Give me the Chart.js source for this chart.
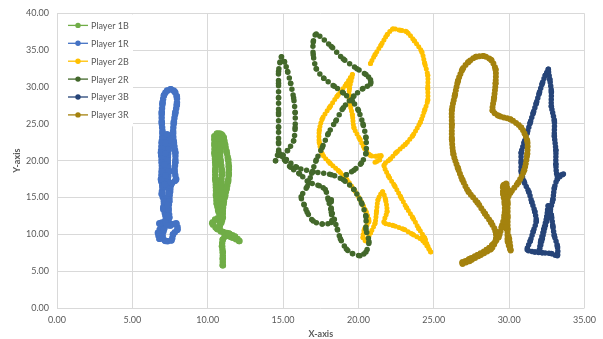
<!DOCTYPE html>
<html>
<head>
<meta charset="utf-8">
<script src="https://cdn.jsdelivr.net/npm/chart.js@4/dist/chart.umd.min.js"></script>
<style>
  html, body { margin: 0; padding: 0; background: #ffffff; }
  canvas { display: block; }
</style>
</head>
<body>
<canvas id="chart" width="603" height="339"></canvas>
<script>
// Series names and colours
const seriesNames = ['Player 1B', 'Player 1R', 'Player 2B', 'Player 2R', 'Player 3B', 'Player 3R'];
const seriesColors = ['#70AD47', '#4472C4', '#FFC000', '#43682B', '#264478', '#A4820E'];

// Axis ticks
const xTicks = [0, 5, 10, 15, 20, 25, 30, 35];
const yTicks = [0, 5, 10, 15, 20, 25, 30, 35, 40];

// Tracked positions [x, y] for each player
const p1B = [
  [11.0,5.8],[11.0,6.7],[11.0,7.6],[10.95,8.4],[11.0,9.3],[11.2,9.8],[11.6,9.6],[12.1,9.1],[11.8,9.7],
  [11.4,10.1],[10.9,10.4],[10.6,10.8],[10.3,11.5],[10.5,12.0],[10.8,12.4],[10.7,13.2],[10.6,14.2],
  [10.55,15.3],[10.55,16.4],[10.5,17.5],[10.5,18.6],[10.5,19.8],[10.45,21.0],[10.45,22.2],[10.45,23.3],
  [10.65,23.7],[10.9,23.6],[11.05,23.2],[11.15,22.2],[11.25,21.2],[11.35,20.2],[11.4,19.2],[11.4,18.2],
  [11.35,17.2],[11.25,16.2],[11.15,15.2],[11.05,14.2],[11.0,13.2],[11.0,12.3],[10.9,11.6],[10.75,10.9],
  [10.9,12.5],[10.9,14.0],[10.95,15.5],[10.9,17.0],[10.95,18.5],[10.85,20.0],[10.8,21.5],[10.75,23.0]
];
const p1R = [
  [6.8,9.4],[6.7,10.2],[6.9,11.0],[6.8,11.5],[7.1,11.6],[7.5,11.2],[7.9,11.5],[8.0,10.7],[7.7,10.0],
  [7.6,9.2],[7.2,9.1],[7.0,9.6],[7.1,10.7],[7.2,11.6],[7.2,12.6],[7.05,13.5],[7.1,14.5],[6.95,15.5],
  [7.0,16.5],[6.9,17.4],[6.95,18.5],[6.95,19.8],[6.9,21.1],[6.95,22.5],[7.0,23.8],[6.95,25.2],[6.95,26.5],
  [7.0,27.8],[7.1,28.9],[7.3,29.5],[7.55,29.7],[7.8,29.4],[7.95,28.7],[7.95,27.6],[7.85,26.5],[7.75,25.2],
  [7.7,23.8],[7.75,22.5],[7.85,21.1],[7.85,19.8],[7.8,18.5],[7.9,17.4],[7.6,16.9],[7.5,15.8],[7.45,14.5],
  [7.4,13.4],[7.45,12.3],[7.3,11.2],[7.35,12.5],[7.35,14.0],[7.4,15.5],[7.35,17.0],[7.4,18.5],[7.35,20.0],
  [7.4,21.5],[7.45,22.8],[7.3,23.6],[7.2,22.4],[7.2,21.0],[7.15,19.5],[7.2,18.0],[7.15,16.8]
];
const p2B = [
  [20.8,33.2],[21.1,34.4],[21.5,35.7],[21.9,37.1],[22.3,37.9],[22.8,37.7],[23.2,37.5],[23.7,36.3],
  [24.2,34.8],[24.4,33.2],[24.6,31.6],[24.6,29.8],[24.6,28.2],[24.4,26.9],[24.1,25.2],[23.6,23.4],
  [23.1,22.2],[22.5,21.1],[22.1,20.2],[21.7,19.4],
  [22.0,17.9],[22.4,16.6],[22.8,15.1],[23.2,13.6],[23.6,12.3],[24.0,10.8],[24.4,9.5],[24.6,8.4],[24.8,7.6],
  [24.3,9.1],[23.6,10.0],[23.0,10.7],[22.3,11.2],[21.7,11.6],
  [21.9,13.1],[21.8,14.7],[21.6,15.8],[21.3,14.7],[21.2,13.1],[21.1,11.5],[20.8,10.2],[20.5,9.1],
  [20.3,9.6],[20.4,10.7],[20.7,11.8],[20.5,13.1],[20.2,14.4],[19.7,16.1],[19.2,17.5],[18.7,18.6],
  [18.1,19.7],[17.6,20.9],[17.4,22.5],[17.4,24.1],[17.6,25.7],[18.1,27.3],[18.6,28.8],[19.2,30.4],
  [19.6,31.7],[19.4,29.8],[19.4,28.1],[19.6,26.2],[19.7,24.5],[20.1,22.9],[20.4,21.7],[20.8,20.7],
  [21.2,20.6],[21.5,20.7],[21.4,20.1],[21.1,19.8]
];
const p2R = [
  [19.2,18.1],[19.7,18.7],[20.2,19.7],[20.5,21.0],[20.5,23.1],[20.3,25.0],[20.0,26.8],[19.6,28.1],
  [19.0,29.2],[18.4,30.1],[17.7,31.2],[17.2,32.5],[17.0,34.4],[17.0,36.1],[17.2,37.2],
  [18.2,35.5],[19.0,33.8],[19.9,32.5],[20.5,31.7],[20.8,31.0],[20.8,30.4],
  [20.3,29.8],[19.7,28.8],[19.0,27.2],[18.5,25.4],[18.0,23.7],[17.6,21.8],[17.2,20.1],[16.9,18.3],
  [16.6,16.5],[16.2,15.1],
  [16.4,14.0],[16.6,13.0],[17.0,11.8],[17.6,11.4],[18.2,11.6],[18.2,13.0],[18.0,14.7],[17.8,16.1],
  [17.4,16.6],[16.7,17.1],[16.1,18.2],[15.5,19.1],[15.1,20.1],[14.8,20.9],
  [14.5,20.0],[14.7,21.2],[14.7,22.5],[14.7,24.5],[14.7,26.5],[14.7,28.5],[14.7,30.5],[14.7,32.1],
  [14.8,33.4],[14.9,34.1],[15.1,33.4],[15.3,32.1],[15.5,30.5],[15.7,28.5],[15.8,26.5],[15.8,24.5],
  [15.7,22.7],[15.3,21.4],[15.0,20.7],
  [15.9,19.1],[17.0,18.5],[18.2,18.1],[19.0,17.4],[19.7,16.1],[20.2,14.3],[20.5,12.4],[20.5,10.7],
  [20.7,9.0],[20.5,7.6],[20.1,7.1],[19.6,7.4],[19.2,8.0],[18.8,9.4],[18.6,10.7],[18.4,12.0],
  [18.2,13.4],[18.2,14.7]
];
const p3B = [
  [32.6,32.4],[32.4,31.6],[32.2,30.5],[32.0,29.2],[31.8,27.8],[31.6,26.5],[31.4,25.2],[31.2,23.8],
  [31.0,22.5],[30.8,21.1],[30.8,19.8],[30.8,18.5],[31.0,17.1],[31.3,15.8],[31.5,14.4],[31.7,13.1],
  [31.8,11.8],[31.6,10.4],[31.4,9.1],[31.2,7.9],[31.7,7.6],[32.2,7.5],[32.8,7.4],[33.2,7.1],
  [33.2,8.4],[33.0,9.8],[32.9,11.1],[32.8,12.6],[32.6,13.9],[32.5,12.4],[32.3,10.7],[32.1,9.1],
  [32.0,7.8],[32.2,9.4],[32.4,11.2],[32.7,13.1],[32.9,14.7],[33.0,16.3],[33.2,17.5],[33.6,18.2],
  [33.2,17.9],[33.1,19.5],[33.1,21.4],[33.0,23.4],[33.0,25.4],[32.8,27.4],[32.8,29.4],[32.7,31.0],
  [32.6,32.2]
];
const p3R = [
  [26.9,6.2],[27.4,6.7],[27.9,7.2],[28.5,7.9],[28.9,8.6],[29.3,9.6],[29.5,11.0],[29.7,12.6],[29.7,14.2],
  [29.6,15.5],[29.6,16.6],[29.8,16.9],[29.9,15.8],[29.9,14.2],[29.9,12.4],[29.9,10.7],[29.9,9.1],
  [30.1,7.8],[30.0,9.4],[29.8,11.0],[29.7,12.6],[29.8,14.4],[30.1,15.7],[30.6,17.0],[31.0,18.7],
  [31.2,20.9],[31.2,22.7],[30.8,24.5],[30.1,25.6],[29.3,26.1],[28.9,26.8],[29.0,28.5],[29.1,30.5],
  [29.1,32.4],[28.8,33.7],[28.3,34.2],[27.8,34.1],[27.3,33.4],[26.9,32.4],[26.6,30.8],[26.4,28.9],
  [26.2,26.9],[26.2,24.9],[26.2,22.9],[26.3,20.9],[26.6,19.0],[26.9,17.4],[27.3,15.8],[27.9,14.3],
  [28.4,12.8],[28.8,11.6],[29.1,10.4],[29.1,9.1],[28.8,8.0],[28.1,7.2],[27.4,6.4],[26.9,6.0]
];

const seriesPoints = [p1B, p1R, p2B, p2R, p3B, p3R];
// dot spacing and stroke width per series (2R is drawn as a visibly beaded chain)
const dotGaps = [3.2, 3.2, 3.4, 5.8, 3.4, 3.4];
const strokeWidths = [6.5, 6.5, 5, 5.5, 5.5, 6];

const labelColor = '#595959';
const tickFont = { family: 'Lato', size: 9 };

const datasets = seriesNames.map((name, i) => ({
  label: name,
  data: seriesPoints[i].map(([x, y]) => ({ x, y })),
  showLine: true,
  borderColor: seriesColors[i],
  backgroundColor: seriesColors[i],
  borderWidth: strokeWidths[i],
  borderDash: [0, dotGaps[i]],
  borderCapStyle: 'round',
  borderJoinStyle: 'round',
  pointRadius: strokeWidths[i] / 2,
  pointBorderWidth: 0,
  tension: 0.25,
  order: seriesNames.length - i
}));

// Legend box drawn inside the top-left corner of the plot area
const insideLegend = {
  id: 'insideLegend',
  beforeDatasetsDraw(chart) {
    const { ctx, chartArea } = chart;
    const left = chartArea.left + 1;
    const top = chartArea.top + 1;
    ctx.save();
    ctx.fillStyle = '#ffffff';
    ctx.fillRect(left, top, 75, 112);
    ctx.font = '9px Lato';
    ctx.textBaseline = 'middle';
    ctx.textAlign = 'left';
    chart.data.datasets.forEach((ds, i) => {
      const cy = chartArea.top + 12 + i * 17.9;
      const x0 = chartArea.left + 11;
      ctx.strokeStyle = ds.borderColor;
      ctx.lineWidth = 1.3;
      ctx.beginPath();
      ctx.moveTo(x0, cy);
      ctx.lineTo(x0 + 20, cy);
      ctx.stroke();
      ctx.fillStyle = ds.backgroundColor;
      ctx.beginPath();
      ctx.arc(x0 + 10, cy, 2.7, 0, Math.PI * 2);
      ctx.fill();
      ctx.fillStyle = labelColor;
      ctx.fillText(ds.label, x0 + 23, cy + 0.5);
    });
    ctx.restore();
  }
};

new Chart(document.getElementById('chart'), {
  type: 'scatter',
  data: { datasets },
  plugins: [insideLegend],
  options: {
    responsive: false,
    animation: false,
    events: [],
    layout: { padding: { top: 9, right: 16, bottom: 0, left: 0 } },
    plugins: {
      legend: { display: false },
      tooltip: { enabled: false }
    },
    scales: {
      x: {
        type: 'linear',
        min: xTicks[0],
        max: xTicks[xTicks.length - 1],
        afterBuildTicks: s => { s.ticks = xTicks.map(v => ({ value: v })); },
        afterFit: s => { s.height = 31; },
        ticks: {
          callback: v => Number(v).toFixed(2),
          color: labelColor,
          font: tickFont,
          padding: 7,
          maxRotation: 0,
          autoSkip: false
        },
        grid: { color: '#D9D9D9', lineWidth: 1, drawTicks: false },
        border: { display: false },
        title: {
          display: true,
          text: 'X-axis',
          color: labelColor,
          font: { family: 'Lato', size: 9, weight: 'bold' },
          padding: { top: 0, bottom: 0 }
        }
      },
      y: {
        type: 'linear',
        min: yTicks[0],
        max: yTicks[yTicks.length - 1],
        afterBuildTicks: s => { s.ticks = yTicks.map(v => ({ value: v })); },
        afterFit: s => { s.width = 57; },
        ticks: {
          callback: v => Number(v).toFixed(2),
          color: labelColor,
          font: tickFont,
          padding: 8,
          autoSkip: false
        },
        grid: { color: '#D9D9D9', lineWidth: 1, drawTicks: false },
        border: { display: false },
        title: {
          display: true,
          text: 'Y-axis',
          color: labelColor,
          font: { family: 'Lato', size: 9, weight: 'bold' },
          padding: { top: 11.5, bottom: 0 }
        }
      }
    }
  }
});
</script>
</body>
</html>
